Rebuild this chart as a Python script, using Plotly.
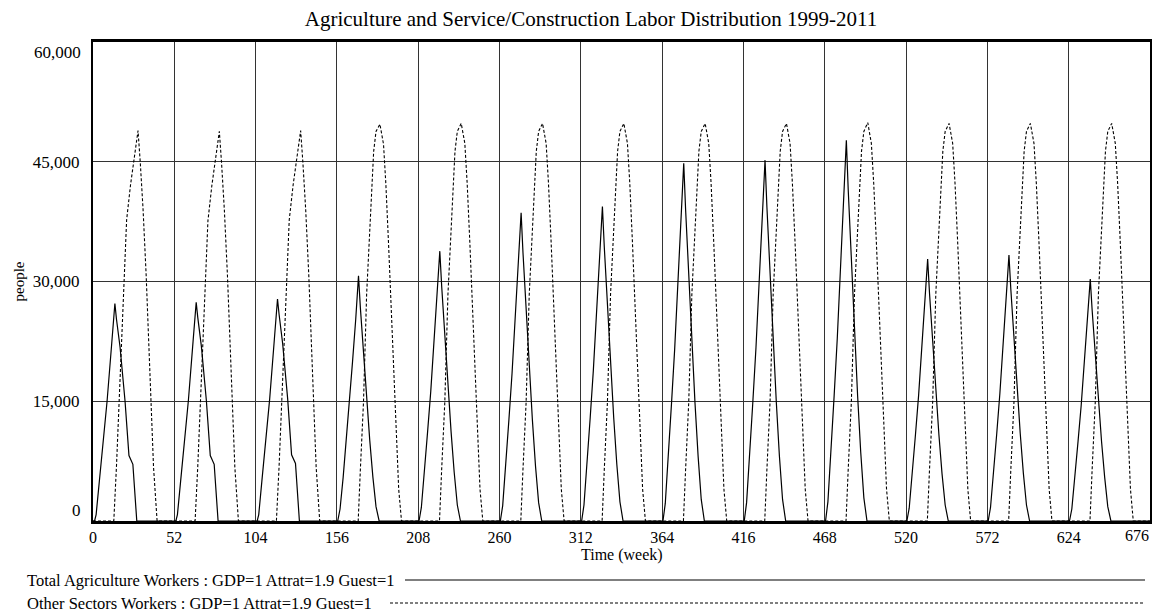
import plotly.graph_objects as go

# ---------------- data ----------------
title_text = "Agriculture and Service/Construction Labor Distribution 1999-2011"
x_ticks = [0, 52, 104, 156, 208, 260, 312, 364, 416, 468, 520, 572, 624, 676]
y_ticks = [0, 15000, 30000, 45000, 60000]
y_tick_labels = ["0", "15,000", "30,000", "45,000", "60,000"]

series_names = [
    "Total Agriculture Workers : GDP=1 Attrat=1.9 Guest=1",
    "Other Sectors Workers : GDP=1 Attrat=1.9 Guest=1",
]

# Total Agriculture Workers (solid line)
agri_weeks = [
    0,
    1, 2, 4, 6, 9, 12, 14, 15, 17.3, 20.5, 23, 25.5, 27, 28,
    53, 54, 56, 58, 61, 64, 66, 67, 69.3, 72.5, 75, 77.5, 79, 80,
    105, 106, 108, 110, 113, 116, 118, 119, 121.3, 124.5, 127, 129.5, 131, 132,
    156.5, 158, 160, 162, 164, 166, 168, 169.8, 171, 173, 175, 177, 179, 181, 183,
    208.5, 210, 212, 214, 216, 218, 220, 221.8, 223, 225, 227, 229, 231, 233, 235,
    260.5, 262, 264, 266, 268, 270, 272, 273.8, 275, 277, 279, 281, 283, 285, 287,
    312.5, 314, 316, 318, 320, 322, 324, 325.8, 327, 329, 331, 333, 335, 337, 339,
    364.5, 366, 368, 370, 372, 374, 376, 377.8, 379, 381, 383, 385, 387, 389, 391,
    416.5, 418, 420, 422, 424, 426, 428, 429.8, 431, 433, 435, 437, 439, 441, 443,
    468.5, 470, 472, 474, 476, 478, 480, 481.8, 483, 485, 487, 489, 491, 493, 495,
    520.5, 522, 524, 526, 528, 530, 532, 533.8, 535, 537, 539, 541, 543, 545, 547,
    572.5, 574, 576, 578, 580, 582, 584, 585.8, 587, 589, 591, 593, 595, 597, 599,
    624.5, 626, 628, 630, 632, 634, 636, 637.8, 639, 641, 643, 645, 647, 649, 651,
    676,
]
agri_people = [
    0,
    0, 800, 4900, 9000, 15000, 22300, 27250, 25300, 21800, 15000, 8200, 7100, 2200, 0,
    0, 800, 4900, 9000, 15100, 22500, 27400, 25500, 21900, 15100, 8200, 7100, 2200, 0,
    0, 800, 5000, 9200, 15300, 22800, 27800, 25900, 22200, 15300, 8300, 7200, 2200, 0,
    0, 1500, 5500, 10100, 14700, 20000, 25200, 30700, 26700, 20900, 15400, 10100, 5500, 1800, 0,
    0, 1700, 6100, 11200, 16200, 22000, 27700, 33800, 29400, 23000, 16900, 11200, 6100, 2000, 0,
    0, 1900, 6900, 12700, 18500, 25100, 31700, 38600, 33600, 26200, 19300, 12700, 6900, 2300, 0,
    0, 2000, 7100, 13000, 18900, 25600, 32300, 39400, 34300, 26800, 19700, 13000, 7100, 2400, 0,
    0, 2200, 8100, 14800, 21500, 29100, 36700, 44800, 39000, 30500, 22400, 14800, 8100, 2700, 0,
    0, 2300, 8100, 14900, 21700, 29400, 37100, 45200, 39300, 30700, 22600, 14900, 8100, 2700, 0,
    0, 2400, 8600, 15700, 22900, 31000, 39100, 47700, 41500, 32400, 23900, 15700, 8600, 2900, 0,
    0, 1600, 5900, 10800, 15700, 21300, 26900, 32800, 28500, 22300, 16400, 10800, 5900, 2000, 0,
    0, 1700, 6000, 11000, 16000, 21600, 27300, 33300, 29000, 22600, 16700, 11000, 6000, 2000, 0,
    0, 1500, 5500, 10000, 14500, 19700, 24800, 30300, 26400, 20600, 15200, 10000, 5500, 1800, 0,
    0,
]

# Other Sectors Workers (dashed line)
other_weeks = [
    0,
    13.3, 15, 16.6, 18.2, 19.8, 21.5, 24, 26.5, 28.8, 30.2, 32, 34, 35.5, 37, 38.7, 41,
    65.3, 67, 68.6, 70.2, 71.8, 73.5, 76, 78.5, 80.8, 82.2, 84, 86, 87.5, 89, 90.7, 93,
    117.3, 119, 120.6, 122.2, 123.8, 125.5, 128, 130.5, 132.8, 134.2, 136, 138, 139.5, 141, 142.7, 145,
    169.6, 171, 173, 175, 176.5, 178, 179.5, 181, 183.5, 185.8, 187.3, 189, 191, 192.5, 194.2, 195.5, 197.3,
    221.6, 223, 225, 227, 228.5, 230, 231.5, 233, 235.5, 237.8, 239.3, 241, 243, 244.5, 246.2, 247.5, 249.3,
    273.6, 275, 277, 279, 280.5, 282, 283.5, 285, 287.5, 289.8, 291.3, 293, 295, 296.5, 298.2, 299.5, 301.3,
    325.6, 327, 329, 331, 332.5, 334, 335.5, 337, 339.5, 341.8, 343.3, 345, 347, 348.5, 350.2, 351.5, 353.3,
    377.6, 379, 381, 383, 384.5, 386, 387.5, 389, 391.5, 393.8, 395.3, 397, 399, 400.5, 402.2, 403.5, 405.3,
    429.6, 431, 433, 435, 436.5, 438, 439.5, 441, 443.5, 445.8, 447.3, 449, 451, 452.5, 454.2, 455.5, 457.3,
    481.6, 483, 485, 487, 488.5, 490, 491.5, 493, 495.5, 497.8, 499.3, 501, 503, 504.5, 506.2, 507.5, 509.3,
    533.6, 535, 537, 539, 540.5, 542, 543.5, 545, 547.5, 549.8, 551.3, 553, 555, 556.5, 558.2, 559.5, 561.3,
    585.6, 587, 589, 591, 592.5, 594, 595.5, 597, 599.5, 601.8, 603.3, 605, 607, 608.5, 610.2, 611.5, 613.3,
    637.6, 639, 641, 643, 644.5, 646, 647.5, 649, 651.5, 653.8, 655.3, 657, 659, 660.5, 662.2, 663.5, 665.3,
    676,
]
other_people = [
    0,
    0, 6800, 14700, 22500, 30300, 37700, 42100, 45500, 48900, 45000, 39100, 30800, 23500, 15600, 6800, 0,
    0, 6800, 14600, 22400, 30300, 37600, 42000, 45400, 48800, 44900, 39000, 30700, 23400, 15600, 6800, 0,
    0, 6800, 14700, 22500, 30300, 37700, 42100, 45500, 48900, 45000, 39100, 30800, 23500, 15600, 6800, 0,
    0, 6500, 14900, 28400, 34900, 39800, 46300, 48800, 49700, 47200, 42200, 34800, 25800, 18900, 10000, 4000, 0,
    0, 6500, 14900, 28400, 34900, 39800, 46300, 48800, 49800, 47300, 42300, 34900, 25900, 18900, 10000, 4000, 0,
    0, 6500, 14900, 28400, 34900, 39800, 46300, 48800, 49800, 47300, 42300, 34900, 25900, 18900, 10000, 4000, 0,
    0, 6500, 14900, 28400, 34900, 39800, 46300, 48800, 49800, 47300, 42300, 34900, 25900, 18900, 10000, 4000, 0,
    0, 6500, 14900, 28400, 34900, 39800, 46300, 48800, 49800, 47300, 42300, 34900, 25900, 18900, 10000, 4000, 0,
    0, 6500, 14900, 28400, 34900, 39800, 46300, 48800, 49800, 47300, 42300, 34900, 25900, 18900, 10000, 4000, 0,
    0, 6500, 14900, 28400, 34900, 39800, 46300, 48800, 49900, 47300, 42300, 34900, 25900, 18900, 10000, 4000, 0,
    0, 6500, 14900, 28400, 34900, 39800, 46300, 48800, 49800, 47300, 42300, 34900, 25900, 18900, 10000, 4000, 0,
    0, 6500, 14900, 28400, 34900, 39800, 46300, 48800, 49800, 47300, 42300, 34900, 25900, 18900, 10000, 4000, 0,
    0, 6500, 14900, 28400, 34900, 39800, 46300, 48800, 49800, 47300, 42300, 34900, 25900, 18900, 10000, 4000, 0,
    0,
]

# ---------------- figure ----------------
FONT = "Liberation Serif, Times New Roman, serif"
OFF = 8                      # page body margin of the browser
W, H = 1164 - OFF, 612 - OFF
# plot area in screenshot pixels: left 93, right 1150, top 42, bottom 521
PL, PR, PT, PB = 93 - OFF, 1150 - OFF, 42 - OFF, 521 - OFF
plot_w, plot_h = PR - PL, PB - PT


def fx(px):
    """screenshot x pixel -> paper x"""
    return (px - OFF - PL) / plot_w


def fy(py):
    """screenshot y pixel -> paper y"""
    return (PB - (py - OFF)) / plot_h


x_text = [str(v) for v in x_ticks]
x_text[-1] = ""               # end label drawn shifted inward (below)
y_text = list(y_tick_labels)
y_text[0] = ""
y_text[-1] = ""

fig = go.Figure()
fig.add_trace(go.Scatter(
    x=agri_weeks, y=agri_people, mode="lines", name=series_names[0],
    line=dict(color="black", width=1.2), showlegend=False,
))
fig.add_trace(go.Scatter(
    x=other_weeks, y=other_people, mode="lines", name=series_names[1],
    line=dict(color="black", width=1.1, dash="3px,2px"), showlegend=False,
))

fig.update_layout(
    width=W, height=H,
    margin=dict(l=PL, r=W - PR, t=PT, b=H - PB, autoexpand=False),
    paper_bgcolor="white", plot_bgcolor="white",
    font=dict(family=FONT, color="black", size=16),
    title=dict(text=title_text, x=(591 - OFF) / W, xanchor="center",
               y=1 - (19 - OFF) / H, yanchor="middle",
               font=dict(family=FONT, size=21, color="black")),
    xaxis=dict(range=[0, 676], tickvals=x_ticks, ticktext=x_text,
               showgrid=True, gridcolor="#333333", gridwidth=1,
               showline=True, linecolor="black", linewidth=3, mirror=True,
               ticks="", zeroline=False, tickfont=dict(size=16, family=FONT)),
    yaxis=dict(range=[0, 60000], tickvals=y_ticks, ticktext=y_text,
               showgrid=True, gridcolor="#333333", gridwidth=1,
               showline=True, linecolor="black", linewidth=2, mirror=True,
               ticks="", zeroline=False, ticklabelstandoff=8,
               tickfont=dict(size=17, family=FONT)),
)

annotations = [
    dict(text=y_tick_labels[0], x=fx(83), y=fy(510), xref="paper", yref="paper",
         showarrow=False, font=dict(size=17, family=FONT),
         xanchor="right", yanchor="middle"),
    dict(text=y_tick_labels[-1], x=fx(83), y=fy(52), xref="paper", yref="paper",
         showarrow=False, font=dict(size=17, family=FONT),
         xanchor="right", yanchor="middle"),
    dict(text=str(x_ticks[-1]), x=fx(1137), y=fy(535), xref="paper", yref="paper",
         showarrow=False, font=dict(size=16, family=FONT),
         xanchor="center", yanchor="middle"),
    dict(text="people", x=fx(18), y=0.5, xref="paper", yref="paper",
         textangle=-90, showarrow=False, font=dict(size=15, family=FONT),
         xanchor="center", yanchor="middle"),
    dict(text="Time (week)", x=fx(622), y=fy(555),
         xref="paper", yref="paper", showarrow=False,
         font=dict(size=16, family=FONT), xanchor="center", yanchor="middle"),
    dict(text=series_names[0], x=fx(25), y=fy(580),
         xref="paper", yref="paper", showarrow=False,
         font=dict(size=16.5, family=FONT), xanchor="left", yanchor="middle"),
    dict(text=series_names[1], x=fx(25), y=fy(603),
         xref="paper", yref="paper", showarrow=False,
         font=dict(size=16.5, family=FONT), xanchor="left", yanchor="middle"),
]
fig.update_layout(annotations=annotations)

fig.add_shape(type="line", xref="paper", yref="paper",
              x0=fx(405), x1=fx(1145), y0=fy(580), y1=fy(580),
              line=dict(color="black", width=1.2))
fig.add_shape(type="line", xref="paper", yref="paper",
              x0=fx(390), x1=fx(1145), y0=fy(603), y1=fy(603),
              line=dict(color="black", width=1.1, dash="3px,2px"))

fig.write_html("out.html")
